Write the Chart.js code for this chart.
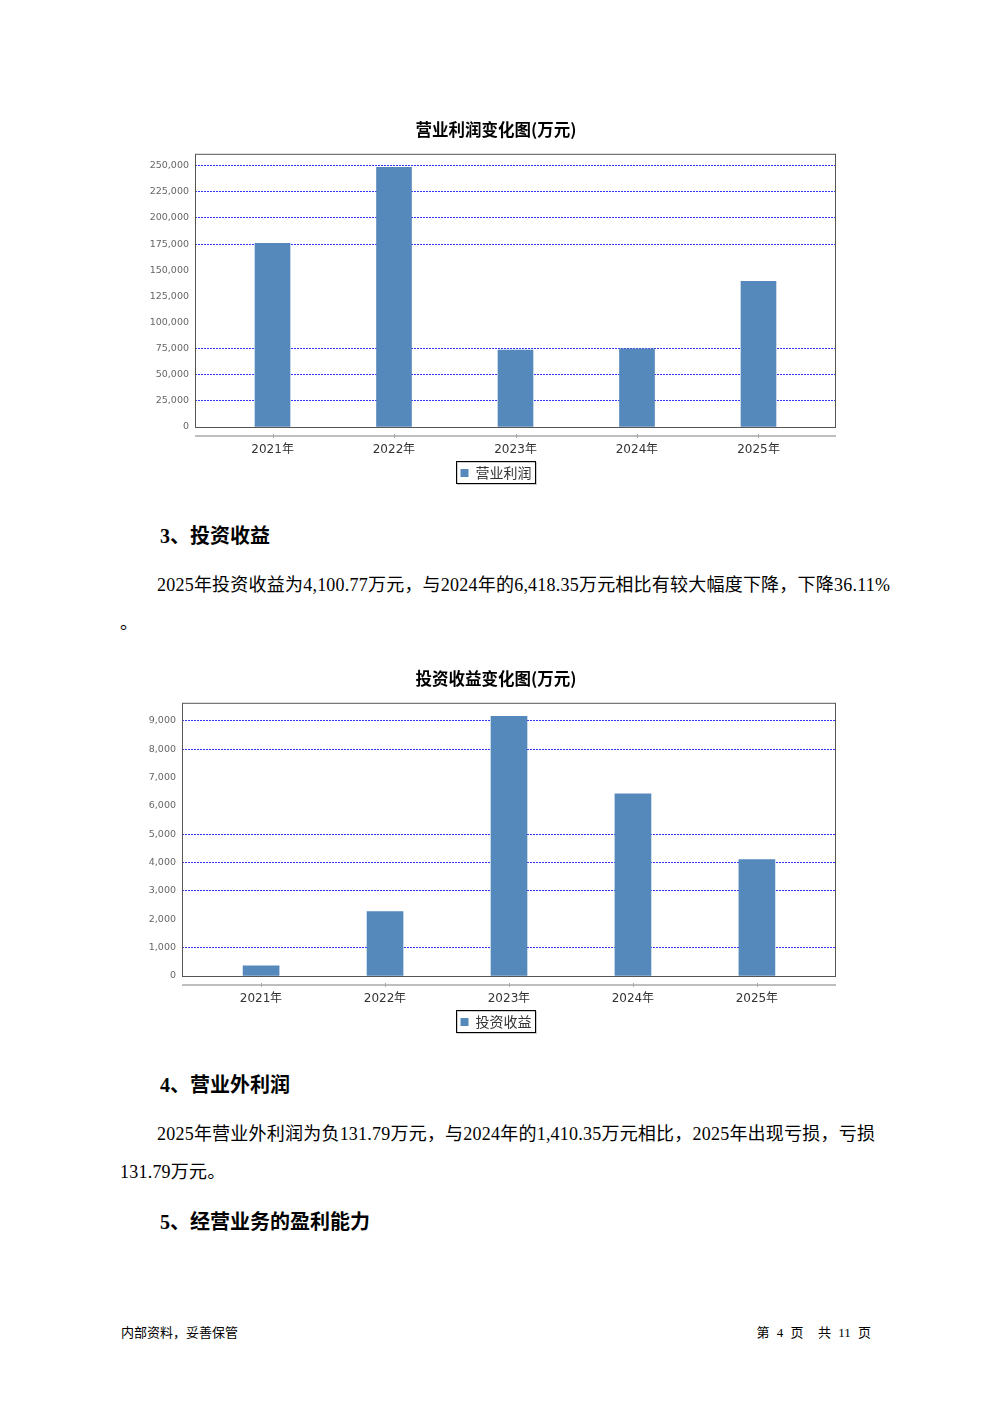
<!DOCTYPE html>
<html lang="zh-CN">
<head>
<meta charset="utf-8">
<script src="https://cdn.jsdelivr.net/npm/chart.js@4.4.0/dist/chart.umd.min.js"></script>
<style>
body { margin: 0; background: #fff; }
#page { position: relative; width: 992px; height: 1403px; overflow: hidden; color: #000;
        font-family: "Liberation Serif", "Noto Sans CJK SC", serif; }
canvas { position: absolute; }
.h { position: absolute; left: 160px; font-size: 20px; line-height: 24px; font-weight: bold; white-space: nowrap; }
.p { position: absolute; font-size: 18px; line-height: 24px; letter-spacing: 0.22px; white-space: nowrap; }
.foot { position: absolute; top: 1325px; font-size: 13px; line-height: 16px; white-space: nowrap; }
</style>
</head>
<body>
<div id="page">
    <canvas id="profitChart" width="752" height="400" style="left:120px;top:100px"></canvas>

    <div class="h" style="top:524px">3、投资收益</div>
    <div class="p" style="left:157px;top:573px">2025年投资收益为4,100.77万元，与2024年的6,418.35万元相比有较大幅度下降，下降36.11%</div>
    <div class="p" style="left:120px;top:611px">。</div>

    <canvas id="investChart" width="752" height="400" style="left:120px;top:649px"></canvas>

    <div class="h" style="top:1073px">4、营业外利润</div>
    <div class="p" style="left:157px;top:1122px">2025年营业外利润为负131.79万元，与2024年的1,410.35万元相比，2025年出现亏损，亏损</div>
    <div class="p" style="left:120px;top:1160px">131.79万元。</div>
    <div class="h" style="top:1210px">5、经营业务的盈利能力</div>

    <div class="foot" style="left:121px">内部资料，妥善保管</div>
    <div class="foot" style="right:121px;word-spacing:4px">第 4 页&nbsp; 共 11 页</div>
</div>

<script>
const years = ['2021年', '2022年', '2023年', '2024年', '2025年'];

const profitValues = [175800, 248400, 73600, 74900, 139300];
const profitTicks = [0, 25000, 50000, 75000, 100000, 125000, 150000, 175000, 200000, 225000, 250000];

const investValues = [362, 2267, 9151, 6418.35, 4100.77];
const investTicks = [0, 1000, 2000, 3000, 4000, 5000, 6000, 7000, 8000, 9000];

// grid lines that are missing in the original picture
const profitGridOff = [100000, 125000, 150000];
const investGridOff = [2000, 6000, 7000];

const barColor = '#5588bb';
const gridColor = '#3333ff';

const framePlugin = {
    id: 'frame',
    afterDraw(chart) {
        const { ctx, chartArea: a, scales: { x } } = chart;
        ctx.save();
        // plot box
        ctx.strokeStyle = '#555';
        ctx.lineWidth = 1;
        ctx.strokeRect(a.left + 0.5, a.top + 0.5, a.right - a.left - 1, a.bottom - a.top);

        // category axis line, drawn a bit under the plot
        const ay = a.bottom + 9;
        ctx.strokeStyle = '#a8a8a8';
        ctx.lineWidth = 1.5;
        ctx.beginPath();
        ctx.moveTo(a.left, ay);
        ctx.lineTo(a.right, ay);
        ctx.stroke();
        ctx.lineWidth = 1;
        years.forEach((_, i) => {
            const px = Math.round(x.getPixelForValue(i)) + 0.5;
            ctx.beginPath();
            ctx.moveTo(px, ay - 2);
            ctx.lineTo(px, ay + 2);
            ctx.stroke();
        });

        // legend frame
        const hb = chart.legend.legendHitBoxes[0];
        if (hb) {
            const l = Math.round(hb.left) - 4.5, t = Math.round(hb.top) - 4.5;
            const w = Math.round(hb.width) + 8, h = Math.round(hb.height) + 8;
            ctx.strokeStyle = '#ccc';
            ctx.strokeRect(l + 1, t + 1, w, h);
            ctx.strokeStyle = '#000';
            ctx.strokeRect(l, t, w, h);
        }
        ctx.restore();
    }
};

function makeChart(id, title, label, values, ticks, gridOff, yMax, axisWidth, barWidth) {
    return new Chart(document.getElementById(id), {
        type: 'bar',
        data: {
            datasets: [{
                label,
                data: values.map((v, i) => ({ x: i, y: v })),
                backgroundColor: barColor,
                barThickness: barWidth
            }]
        },
        options: {
            responsive: false,
            animation: false,
            layout: { padding: { left: 0, right: 0, top: 0, bottom: 10 } },
            plugins: {
                title: {
                    display: true,
                    text: title,
                    color: '#000',
                    font: { family: 'Noto Sans CJK SC', size: 16.5, weight: 'bold' },
                    padding: { top: 20, bottom: 14 }
                },
                legend: {
                    position: 'bottom',
                    labels: {
                        boxWidth: 8, boxHeight: 8, padding: 6, color: '#333',
                        font: { family: 'Noto Sans CJK SC', size: 14 }
                    }
                },
                tooltip: { enabled: false }
            },
            scales: {
                x: {
                    type: 'linear',
                    offset: false,
                    min: -0.638,
                    max: 4.638,
                    afterBuildTicks: s => { s.ticks = years.map((_, i) => ({ value: i })); },
                    afterFit: s => { s.height = 33; },
                    grid: { display: false, drawTicks: false },
                    border: { display: false },
                    ticks: {
                        padding: 16, color: '#333', maxRotation: 0, autoSkip: false,
                        font: { family: 'DejaVu Sans', size: 12 },
                        callback: v => years[v]
                    }
                },
                y: {
                    min: 0,
                    max: yMax,
                    afterBuildTicks: s => { s.ticks = ticks.map(v => ({ value: v })); },
                    afterFit: s => { s.width = axisWidth; },
                    border: { display: false, dash: [2, 1] },
                    grid: {
                        color: c => gridOff.includes(c.tick.value) ? 'rgba(0,0,0,0)' : gridColor,
                        drawTicks: false
                    },
                    ticks: {
                        padding: 6, color: '#666',
                        font: { family: 'DejaVu Sans', size: 9.5 },
                        callback: v => v.toLocaleString('en-US')
                    }
                },
                // empty right-hand margin so the title and legend sit centred on the page
                side: {
                    type: 'linear',
                    position: 'right',
                    display: true,
                    afterFit: s => { s.width = 36; },
                    grid: { display: false, drawTicks: false },
                    border: { display: false },
                    ticks: { display: false }
                }
            }
        },
        plugins: [framePlugin]
    });
}

makeChart('profitChart', '营业利润变化图(万元)', '营业利润', profitValues, profitTicks, profitGridOff, 261400, 75, 35);
makeChart('investChart', '投资收益变化图(万元)', '投资收益', investValues, investTicks, investGridOff, 9630, 62, 36);
</script>
</body>
</html>
